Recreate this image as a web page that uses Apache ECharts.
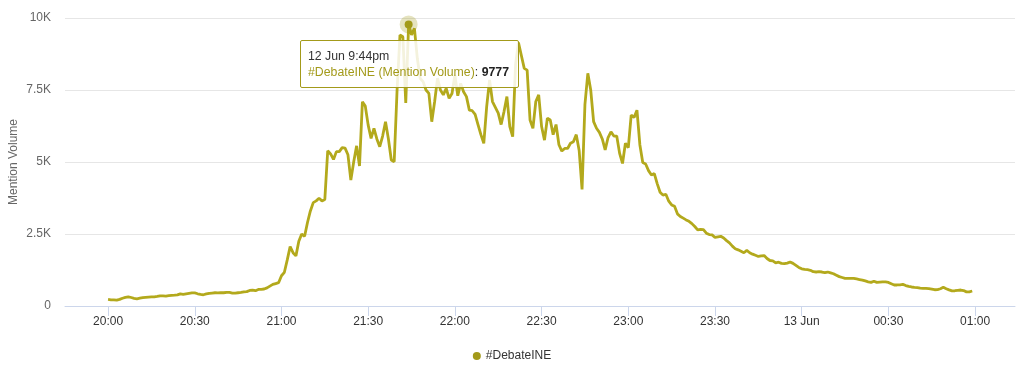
<!DOCTYPE html>
<html>
<head>
<meta charset="utf-8">
<script src="https://cdn.jsdelivr.net/npm/echarts@6/dist/echarts.min.js"></script>
<style>
html,body{margin:0;padding:0;background:#fff;}
#chart{width:1024px;height:381px;}
</style>
</head>
<body>
<div id="chart"></div>
<script>
// Minutes since 12 Jun 20:00, one value per minute
const seriesName = '#DebateINE';
const metricName = 'Mention Volume';
const mentionVolume = [
230,215,210,205,230,270,300,320,295,265,
250,270,290,300,310,315,320,335,355,350,
345,360,370,375,385,420,405,425,440,455,
455,425,405,390,420,440,450,460,455,465,
460,475,470,445,450,460,470,490,500,540,
550,530,575,580,590,630,690,750,780,810,
1050,1170,1600,2060,1850,1740,2250,2500,2420,2900,
3300,3590,3650,3740,3650,3700,5390,5280,5090,5360,
5360,5500,5480,5250,4370,5010,5560,4860,7090,6940,
6280,5820,6170,5800,5530,5900,6400,5800,5070,5010,
7500,9410,9350,7050,9777,9410,9640,8600,7900,7790,
7500,7380,6400,7100,7910,7500,7330,7560,7210,7380,
8020,7300,7730,7440,7270,6800,6780,6650,6300,5950,
5650,6920,7850,7100,6900,6700,6300,6750,7270,6230,
5880,8400,9150,8700,8250,8190,6460,6170,7100,7330,
6230,5760,6520,6460,5950,6300,5600,5380,5470,5470,
5650,5700,5950,5400,4050,7000,8080,7500,6400,6170,
6030,5800,5420,5850,6050,5900,5900,5300,4950,5650,
5500,6630,6550,6800,5600,4980,4930,4700,4550,4600,
4250,3950,3850,3880,3640,3510,3460,3200,3110,3050,
2990,2940,2860,2760,2640,2660,2650,2530,2480,2470,
2380,2400,2420,2360,2270,2190,2080,1990,1950,1900,
1850,1930,1850,1800,1760,1720,1740,1750,1650,1580,
1570,1500,1520,1480,1470,1490,1530,1480,1410,1340,
1290,1270,1260,1240,1190,1180,1190,1180,1160,1180,
1150,1120,1070,1020,990,960,960,960,960,940,
920,900,870,840,820,860,820,830,840,840,
820,770,730,730,735,750,710,680,660,645,
640,620,610,610,605,585,565,570,600,650,
600,560,525,530,545,555,535,490,490,520
];
const xTickMinutes = [0,30,60,90,120,150,180,210,240,270,300];
const xTickLabels = ['20:00','20:30','21:00','21:30','22:00','22:30','23:00','23:30','13 Jun','00:30','01:00'];
const yTickValues = [0,2500,5000,7500,10000];
const yTickLabels = ['0','2.5K','5K','7.5K','10K'];
const tooltipIndex = 104;

const color = '#a39a1a';
const font = "'Liberation Sans', Arial, Helvetica, sans-serif";
const data = mentionVolume.map((v,i)=>[i,v]);

function fmtTime(i){
  let total = 20*60 + i;
  let day = total >= 24*60 ? 13 : 12;
  total = total % (24*60);
  let h = Math.floor(total/60), m = total%60;
  let ampm = h >= 12 ? 'pm' : 'am';
  let h12 = h%12; if (h12===0) h12 = 12;
  return day + ' Jun ' + h12 + ':' + String(m).padStart(2,'0') + ampm;
}

const chart = echarts.init(document.getElementById('chart'), null, {renderer:'canvas'});
chart.setOption({
  animation:false,
  textStyle:{fontFamily:font},
  grid:{left:65,right:9,top:18,bottom:75,containLabel:false,outerBoundsMode:'none'},
  legend:{
    data:[seriesName], bottom:14, left:'center',
    icon:'circle', itemWidth:8, itemHeight:8, itemGap:6,
    textStyle:{fontFamily:font,fontSize:12,color:'#333'}
  },
  tooltip:{
    trigger:'item',
    alwaysShowContent:true,
    showDelay:0, transitionDuration:0,
    backgroundColor:'rgba(255,255,255,0.85)',
    borderColor:color, borderWidth:1, borderRadius:2,
    padding:[7,9,7,7],
    extraCssText:'box-shadow:none;line-height:16px;',
    textStyle:{fontFamily:font,fontSize:12,color:'#333'},
    position:function(){ return [300,40]; },
    formatter:function(p){
      return '<div style="font-size:12.3px;color:#333">'+fmtTime(p.data[0])+'</div>'+
        '<div style="font-size:12.3px;"><span style="color:'+color+'">'+seriesName+' ('+metricName+')</span>: <b style="color:#222">'+p.data[1]+'</b></div>';
    }
  },
  xAxis:{
    type:'value', min:-14.9, max:313.8,
    axisLine:{show:true,lineStyle:{color:'#ccd6eb',width:1}},
    axisTick:{show:true,customValues:xTickMinutes,length:10,lineStyle:{color:'#ccd6eb'}},
    axisLabel:{
      customValues:xTickMinutes,
      color:'#333', fontSize:12, fontFamily:font, margin:10,
      formatter:function(v){ const k = xTickMinutes.indexOf(Math.round(v)); return k>=0 ? xTickLabels[k] : ''; }
    },
    splitLine:{show:false}
  },
  yAxis:{
    type:'value', min:0, max:10000, interval:2500,
    name:metricName, nameLocation:'middle', nameGap:45, nameRotate:90, nameMoveOverlap:false,
    nameTextStyle:{color:'#666',fontSize:12,fontFamily:font},
    axisLine:{show:false}, axisTick:{show:false},
    axisLabel:{color:'#666',fontSize:12,fontFamily:font,margin:14,
      formatter:function(v){ const k = yTickValues.indexOf(v); return k>=0 ? yTickLabels[k] : ''; }},
    splitLine:{lineStyle:{color:'#e6e6e6',width:1}}
  },
  series:[{
    name:seriesName, type:'line', data:data,
    showSymbol:false, symbol:'circle', symbolSize:8,
    lineStyle:{color:color,width:2.8},
    itemStyle:{color:color},
    emphasis:{scale:false, itemStyle:{color:color,borderColor:'rgba(163,154,26,0.28)',borderWidth:10}, lineStyle:{width:2.8}},
    z:3
  }]
});
chart.dispatchAction({type:'highlight',seriesIndex:0,dataIndex:tooltipIndex});
chart.dispatchAction({type:'showTip',seriesIndex:0,dataIndex:tooltipIndex});
</script>
</body>
</html>
